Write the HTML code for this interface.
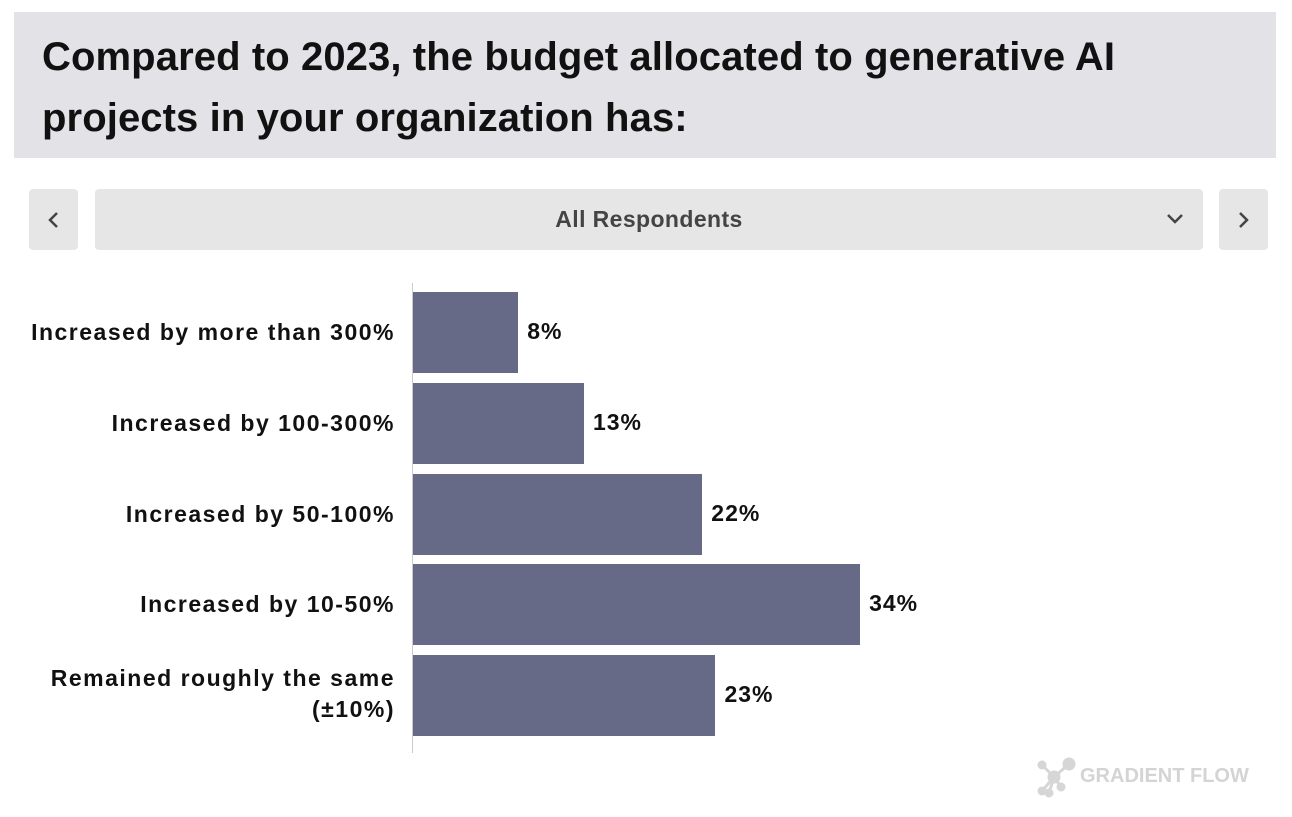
<!DOCTYPE html>
<html><head><meta charset="utf-8"><style>
body{margin:0;width:1292px;height:817px;background:#fff;font-family:"Liberation Sans",sans-serif;position:relative;overflow:hidden}
.title{position:absolute;left:14px;top:12px;width:1262px;height:146px;background:#e3e2e7}
.title h1{margin:0;position:absolute;left:28px;top:15px;font-size:40px;line-height:61px;font-weight:bold;color:#111;letter-spacing:0.1px}
.btn{position:absolute;top:189px;height:61px;background:#e6e6e6;border-radius:4px}
.lbl{position:absolute;right:897px;font-size:23px;font-weight:bold;color:#111;text-align:right;line-height:31px;letter-spacing:1.5px}
.val{position:absolute;font-size:23px;font-weight:bold;color:#111;letter-spacing:1px}
</style></head><body>
<div class="title"><h1>Compared to 2023, the budget allocated to generative AI<br>projects in your organization has:</h1></div>
<div class="btn" style="left:29px;width:49px"><svg width="49" height="61"><path d="M28 24 L21 31 L28 38" stroke="#444" stroke-width="2.5" fill="none"/></svg></div>
<div class="btn" style="left:95px;width:1108px"><div style="position:absolute;width:100%;top:17px;text-align:center;font-size:23px;font-weight:bold;color:#444;letter-spacing:0.4px">All Respondents</div><svg style="position:absolute;right:18px;top:22px" width="20" height="16"><path d="M3 4 L10 11 L17 4" stroke="#444" stroke-width="2.5" fill="none"/></svg></div>
<div class="btn" style="left:1219px;width:49px"><svg width="49" height="61"><path d="M21 24 L28 31 L21 38" stroke="#444" stroke-width="2.5" fill="none"/></svg></div>
<div style="position:absolute;left:412px;top:283px;width:1px;height:470px;background:#ccc"></div>
<div id="chart"></div>
<div style="position:absolute;left:1036px;top:757px"><svg width="40" height="42"><g stroke="#d6d6d6" stroke-width="3" fill="#d6d6d6"><line x1="6" y1="8" x2="18" y2="20"/><line x1="18" y1="20" x2="33" y2="7"/><line x1="18" y1="20" x2="6" y2="34"/><line x1="18" y1="20" x2="25" y2="30"/><line x1="18" y1="20" x2="13" y2="36"/><circle cx="6" cy="8" r="3"/><circle cx="33" cy="7" r="5"/><circle cx="18" cy="20" r="5"/><circle cx="6" cy="34" r="3"/><circle cx="25" cy="30" r="3"/><circle cx="13" cy="36" r="3"/></g></svg><span style="position:absolute;left:44px;top:8px;font-size:20px;font-weight:bold;color:#d4d4d4;white-space:nowrap">GRADIENT FLOW</span></div>
<script>
const categories=["Increased by more than 300%","Increased by 100-300%","Increased by 50-100%","Increased by 10-50%","Remained roughly the same (±10%)"];
const values=[8,13,22,34,23];
const x0=413,pxPer=13.15,top0=292,pitch=90.75,bh=81;
const c=document.getElementById('chart');
categories.forEach((cat,i)=>{
 const y=top0+i*pitch,w=values[i]*pxPer;
 const b=document.createElement('div');
 b.style.cssText=`position:absolute;left:${x0}px;top:${y}px;width:${w}px;height:${bh}px;background:#666a87`;
 
 
 c.appendChild(b);
 const v=document.createElement('div');v.className='val';
 v.style.cssText=`left:${x0+w+9}px;top:${y+26}px`;
 v.textContent=values[i]+'%';
 
 
 c.appendChild(v);
 const l=document.createElement('div');l.className='lbl';
 if(i==4){l.innerHTML='Remained roughly the same<br>(±10%)';l.style.top=(y+8)+'px';}
 else{l.textContent=cat;l.style.top=(y+25)+'px';}
 l.style.whiteSpace='nowrap';
 
 
 c.appendChild(l);
});
</script>
</body></html>
